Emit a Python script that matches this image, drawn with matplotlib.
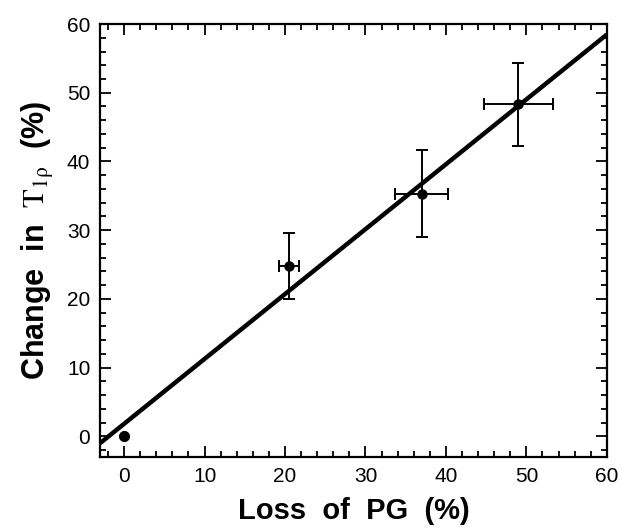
import matplotlib
matplotlib.use("Agg")
import numpy as np
import matplotlib.pyplot as plt
from matplotlib.ticker import MultipleLocator

# data
loss_pg = [0.0, 20.5, 37.0, 49.0]
change_t1rho = [0.0, 24.8, 35.3, 48.3]
x_err = [0.0, 1.2, 3.3, 4.3]
y_err = [0.0, 4.8, 6.3, 6.0]

# fitted line
fit_slope = 0.944
fit_intercept = 1.83

plt.rcParams['font.family'] = ['Liberation Sans', 'DejaVu Sans']
plt.rcParams['mathtext.fontset'] = 'stix'

fig = plt.figure(figsize=(6.23, 5.28), dpi=100)
ax = fig.add_axes([0.1605, 0.1345, 0.8135, 0.82])

x_line = np.array([-3, 60])
ax.plot(x_line, fit_slope * x_line + fit_intercept, color='black', lw=3.2, solid_capstyle='butt')

# the zero point has no error bars
ax.plot(loss_pg[:1], change_t1rho[:1], 'o', color='black', ms=7)
ax.errorbar(loss_pg[1:], change_t1rho[1:], xerr=x_err[1:], yerr=y_err[1:], fmt='o', color='black',
            ms=6.5, elinewidth=1.4, capsize=4, capthick=1.4)

ax.set_xlim(-3, 60)
ax.set_ylim(-3, 60)
ax.xaxis.set_major_locator(MultipleLocator(10))
ax.xaxis.set_minor_locator(MultipleLocator(2))
ax.yaxis.set_major_locator(MultipleLocator(10))
ax.yaxis.set_minor_locator(MultipleLocator(2))
ax.tick_params(which='both', direction='in', top=True, right=True, width=1.3,
               labelsize=15, pad=7)
ax.tick_params(which='major', length=8)
ax.tick_params(which='minor', length=4)
for s in ax.spines.values():
    s.set_linewidth(1.6)

ax.set_xlabel('Loss  of  PG  (%)', fontsize=21, fontweight='bold', labelpad=8)
ax.set_ylabel(r'Change  in  $\mathrm{T}_{1\mathrm{\rho}}$  (%)', fontsize=22, fontweight='bold', labelpad=8)

fig.savefig('out.png', dpi=100)
